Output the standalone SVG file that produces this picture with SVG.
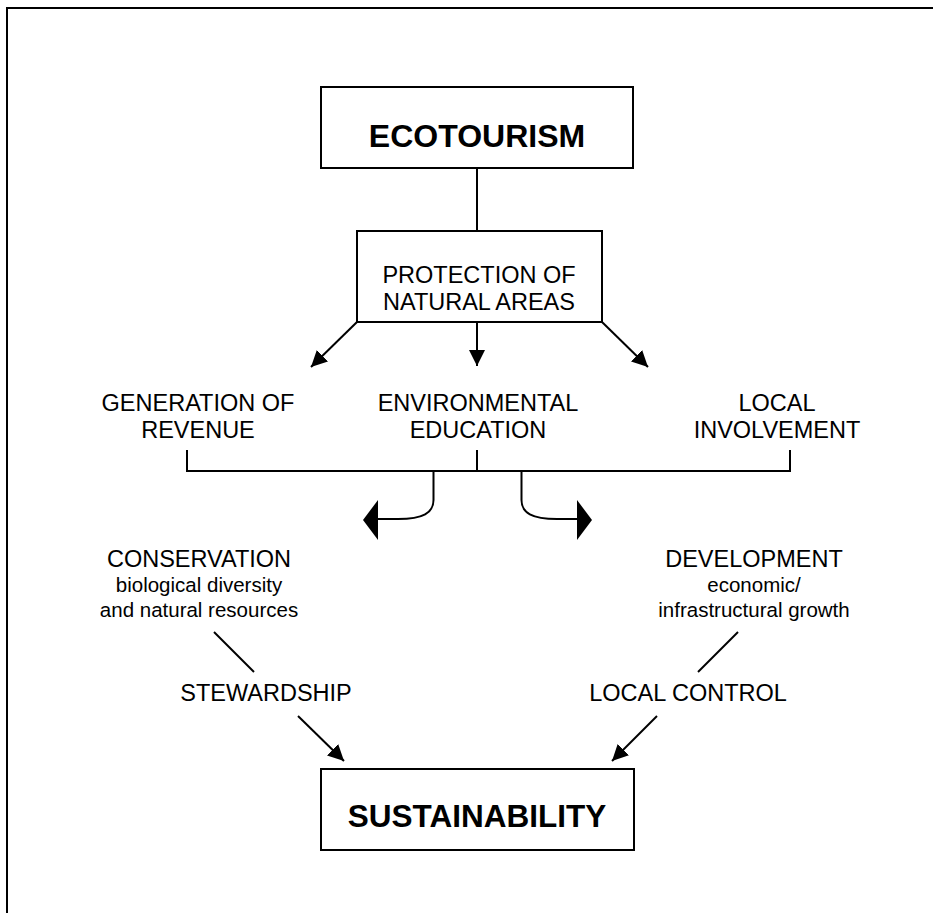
<svg xmlns="http://www.w3.org/2000/svg" width="933" height="913" viewBox="0 0 933 913">
<defs>
<style>
.ln{fill:none;stroke:#000;stroke-width:2}
.bx{fill:#fff;stroke:#000;stroke-width:2}
.t{font-family:"Liberation Sans",Arial,sans-serif;font-size:23.5px;fill:#000;text-anchor:middle}
.s{font-family:"Liberation Sans",Arial,sans-serif;font-size:20.5px;fill:#000;text-anchor:middle}
.b{font-family:"Liberation Sans",Arial,sans-serif;font-size:32px;font-weight:bold;fill:#000;text-anchor:middle}
</style>
<marker id="ah" markerUnits="userSpaceOnUse" markerWidth="16" markerHeight="16" viewBox="0 0 16 16" refX="16" refY="8" orient="auto">
<path d="M0,0 L16,8 L0,16 z" fill="#000"/>
</marker>
</defs>
<rect width="933" height="913" fill="#fff"/>
<g id="frame"><path class="ln" d="M7,913 V8 H933"/></g>
<g id="connectors">
<path class="ln" d="M477,168 V231"/>
<path class="ln" d="M477,322 V366" marker-end="url(#ah)"/>
<path class="ln" d="M357,322 L311,367" marker-end="url(#ah)"/>
<path class="ln" d="M602,322 L648,367" marker-end="url(#ah)"/>
<path class="ln" d="M187,450 V471 H790 V450 M477,450 V471"/>
<path class="ln" d="M433.5,471 V500 C433.5,513 423,519 398,519 H378"/>
<polygon points="378,500 378,540 363,520" fill="#000"/>
<path class="ln" d="M521.5,471 V500 C521.5,513 532,519 557,519 H577"/>
<polygon points="577,500 577,540 592,520" fill="#000"/>
<path class="ln" d="M214,632 L254,672"/>
<path class="ln" d="M738,632 L698,672"/>
<path class="ln" d="M298,716 L344,761" marker-end="url(#ah)"/>
<path class="ln" d="M657,716 L612,761" marker-end="url(#ah)"/>
</g>
<g id="ecotourism"><rect class="bx" x="321" y="87" width="312" height="81"/><text class="b" x="477" y="147">ECOTOURISM</text></g>
<g id="protection"><rect class="bx" x="357" y="231" width="245" height="91"/><text class="t" x="479" y="283">PROTECTION OF</text><text class="t" x="479" y="310">NATURAL AREAS</text></g>
<g id="revenue"><text class="t" x="198" y="411">GENERATION OF</text><text class="t" x="198" y="438">REVENUE</text></g>
<g id="education"><text class="t" x="478" y="411">ENVIRONMENTAL</text><text class="t" x="478" y="438">EDUCATION</text></g>
<g id="involvement"><text class="t" x="777" y="411">LOCAL</text><text class="t" x="777" y="438">INVOLVEMENT</text></g>
<g id="conservation"><text class="t" x="199" y="567">CONSERVATION</text><text class="s" x="199" y="592">biological diversity</text><text class="s" x="199" y="617">and natural resources</text></g>
<g id="development"><text class="t" x="754" y="567">DEVELOPMENT</text><text class="s" x="754" y="592">economic/</text><text class="s" x="754" y="617">infrastructural growth</text></g>
<g id="stewardship"><text class="t" x="266" y="701">STEWARDSHIP</text></g>
<g id="localcontrol"><text class="t" x="688" y="701">LOCAL CONTROL</text></g>
<g id="sustainability"><rect class="bx" x="321" y="769" width="313" height="81"/><text class="b" x="477" y="827" style="font-size:31.5px">SUSTAINABILITY</text></g>
</svg>
